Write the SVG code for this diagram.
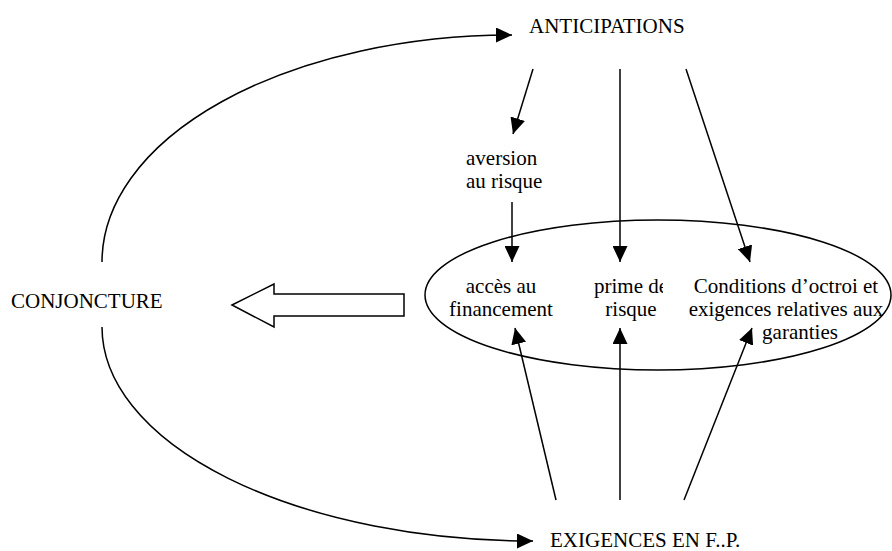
<svg xmlns="http://www.w3.org/2000/svg" width="892" height="551" viewBox="0 0 892 551">
<style>
text{font-family:"Liberation Serif","Times New Roman",serif;font-size:21px;fill:#000}
.c{text-anchor:middle}
.ln{stroke:#000;stroke-width:1.5;fill:none}
</style>
<defs>
<marker id="ah" markerUnits="userSpaceOnUse" markerWidth="17" markerHeight="15" refX="16" refY="7.5" orient="auto">
<path d="M0,0 L16,7.5 L0,15 Z" fill="#000"/>
</marker>
<clipPath id="cp"><rect x="0" y="0" width="663" height="551"/></clipPath>
</defs>
<rect width="892" height="551" fill="#fff"/>
<g id="connectors">
<path class="ln" d="M102 262 A410 227 0 0 1 512 35" marker-end="url(#ah)"/>
<path class="ln" d="M102 327 A431 214 0 0 0 533 541" marker-end="url(#ah)"/>
<line class="ln" x1="533" y1="69" x2="513" y2="134" marker-end="url(#ah)"/>
<line class="ln" x1="512" y1="202" x2="512" y2="262" marker-end="url(#ah)"/>
<line class="ln" x1="620" y1="69" x2="620" y2="262" marker-end="url(#ah)"/>
<line class="ln" x1="686" y1="69" x2="750" y2="262" marker-end="url(#ah)"/>
<line class="ln" x1="556" y1="500" x2="515" y2="328" marker-end="url(#ah)"/>
<line class="ln" x1="620" y1="500" x2="620" y2="328" marker-end="url(#ah)"/>
<line class="ln" x1="684" y1="500" x2="752" y2="328" marker-end="url(#ah)"/>
<polygon class="ln" points="232,305 274,284 274,294 404,294 404,316 274,316 274,327"/>
</g>
<g id="ellipse-group">
<ellipse class="ln" cx="658" cy="295" rx="233" ry="75"/>
</g>
<g id="anticipations"><text x="529" y="33">ANTICIPATIONS</text></g>
<g id="conjoncture"><text x="11" y="308">CONJONCTURE</text></g>
<g id="exigences"><text x="550" y="547">EXIGENCES EN F..P.</text></g>
<g id="aversion"><text x="466" y="165">aversion</text><text x="466" y="188">au risque</text></g>
<g id="acces"><text class="c" x="501" y="293">accès au</text><text class="c" x="501" y="316">financement</text></g>
<g id="prime"><g clip-path="url(#cp)"><text class="c" x="631" y="293">prime de</text></g><text class="c" x="631" y="316">risque</text></g>
<g id="conditions"><text class="c" x="786" y="293">Conditions d’octroi et</text><text class="c" x="786" y="316">exigences relatives aux</text><text class="c" x="800" y="339">garanties</text></g>
</svg>
